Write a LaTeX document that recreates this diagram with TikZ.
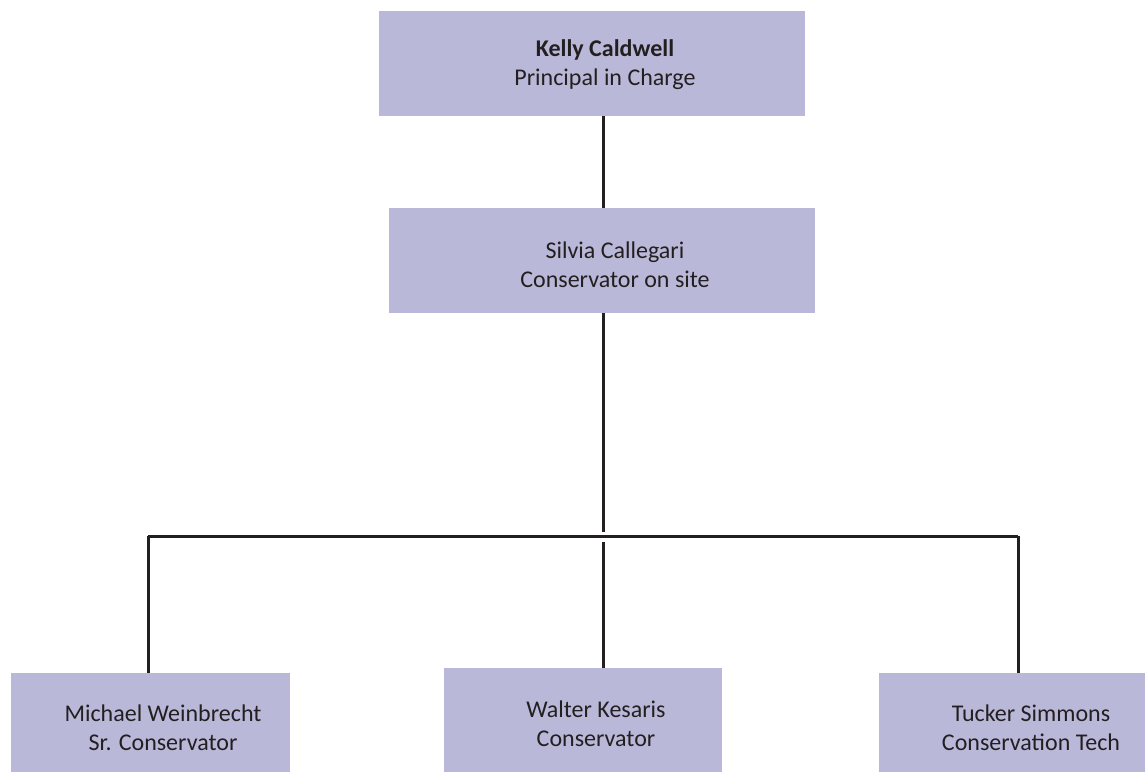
\documentclass[tikz,border=0pt]{standalone}
\usepackage{fontspec}
\setmainfont{Carlito}
\usetikzlibrary{positioning, calc}
\definecolor{boxfill}  {HTML}{BAB8D9}
\definecolor{darktext} {HTML}{231F20}
\tikzset{
  staffbox/.style={fill=boxfill, draw=none, inner sep=0pt},
  staffname/.style={font=\fontsize{24}{29}\selectfont, text=darktext, align=center},
  orgline/.style={draw=darktext, line width=3pt}
}
\begin{document}
\begin{tikzpicture}[x=1pt,y=-1pt]
\useasboundingbox (0,0) rectangle (1145,772);
% boxes
\node[staffbox,minimum width=426pt,minimum height=105pt](kelly)at(592,63.5){};
\node[staffbox,minimum width=426pt,minimum height=105pt](silvia)at(602,260.5){};
\node[staffbox,minimum width=279pt,minimum height=99pt](michael)at(150.5,722.5){};
\node[staffbox,minimum width=278pt,minimum height=104pt](walter)at(583,720){};
\node[staffbox,minimum width=266pt,minimum height=99pt](tucker)at(1012,722.5){};
% names
\node[staffname](kellytxt)at(605,65){\textbf{Kelly Caldwell}\\Principal in Charge};
\node[staffname](silviatxt)at(615,265){Silvia Callegari\\Conservator on site};
\node[staffname](michaeltxt)at(163,728){Michael Weinbrecht\\Sr. Conservator};
\node[staffname](waltertxt)at(596,724){Walter Kesaris\\Conservator};
\node[staffname](tuckertxt)at(1031,728){Tucker Simmons\\Conservation Tech};
% connectors
\coordinate(barL)at(148,536);
\coordinate(barM)at(603,536);
\coordinate(barR)at(1018,536);
\draw[orgline](barL)--(barR);
\draw[orgline](kelly.south -| barM)--(silvia.north -| barM);
\draw[orgline](silvia.south -| barM)--([yshift=4pt]barM);
\draw[orgline]([yshift=-6pt]barM)--(walter.north -| barM);
\draw[orgline](barL)--(michael.north -| barL);
\draw[orgline](barR)--(tucker.north -| barR);
\end{tikzpicture}
\end{document}
